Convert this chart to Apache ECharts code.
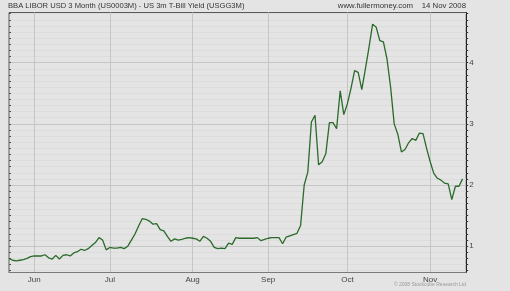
<!DOCTYPE html>
<html>
<head>
<meta charset="utf-8">
<script src="https://cdn.jsdelivr.net/npm/echarts@6/dist/echarts.min.js"></script>
<style>
html,body{margin:0;padding:0;background:#e4e4e4;}
#c{width:510px;height:291px;}
</style>
</head>
<body>
<div id="c"></div>
<script>
// ---- data ----
const startDate = '2008-05-22';   // first trading day shown
const tradingDays = 128;          // weekdays on the axis (last one is empty)
const monthNames = ['Jan','Feb','Mar','Apr','May','Jun','Jul','Aug','Sep','Oct','Nov','Dec'];
const spreadValues = [
  0.80,0.77,0.76,0.77,0.78,0.80,0.83,0.84,0.84,0.84,
  0.86,0.81,0.79,0.85,0.79,0.85,0.86,0.84,0.89,0.91,
  0.95,0.93,0.96,1.01,1.06,1.14,1.10,0.94,0.98,0.97,
  0.97,0.98,0.96,1.00,1.10,1.20,1.33,1.45,1.44,1.41,
  1.36,1.37,1.27,1.25,1.16,1.08,1.12,1.10,1.11,1.13,
  1.14,1.13,1.12,1.08,1.16,1.13,1.08,0.98,0.96,0.97,
  0.96,1.05,1.03,1.14,1.13,1.13,1.13,1.13,1.13,1.14,
  1.09,1.11,1.13,1.14,1.14,1.14,1.04,1.15,1.17,1.19,
  1.21,1.34,2.00,2.21,3.03,3.14,2.33,2.38,2.51,3.02,
  3.02,2.92,3.54,3.15,3.33,3.58,3.87,3.84,3.56,3.90,
  4.25,4.63,4.58,4.36,4.34,4.06,3.60,3.00,2.83,2.54,
  2.58,2.69,2.76,2.73,2.85,2.84,2.60,2.38,2.19,2.11,
  2.08,2.03,2.02,1.76,1.98,1.98,2.10
];
const yTickLabels = [1,2,3,4];
const yMin = 0.57, yMax = 4.82;

// ---- categories (weekdays) ----
const categories = [];
(function(){
  const d = new Date(startDate + 'T00:00:00Z');
  while (categories.length < tradingDays) {
    const wd = d.getUTCDay();
    if (wd !== 0 && wd !== 6) categories.push(d.toISOString().slice(0,10));
    d.setUTCDate(d.getUTCDate() + 1);
  }
})();
function isMonthStart(idx) {
  if (idx === 0) return false;
  return categories[idx].slice(5,7) !== categories[idx-1].slice(5,7);
}
const minorTicks = [];
for (let k = 6; k <= 48; k++) minorTicks.push(Math.round(k) / 10);

const chart = echarts.init(document.getElementById('c'), null, {renderer:'canvas'});
const FONT = "'Liberation Sans', Arial, sans-serif";
chart.setOption({
  animation: false,
  backgroundColor: '#e4e4e4',
  grid: {left: 9, top: 12.5, width: 457.2, height: 260, show: true, borderColor: '#5a5a5a', borderWidth: 1, backgroundColor: 'transparent'},
  xAxis: {
    type: 'category', data: categories, boundaryGap: false,
    axisLine: {lineStyle: {color: '#7a7a7a'}},
    axisTick: {show: false},
    axisLabel: {
      interval: (i) => isMonthStart(i),
      formatter: (v) => monthNames[parseInt(v.slice(5,7),10)-1],
      color: '#444', fontSize: 8, fontFamily: FONT, margin: 3
    },
    splitLine: {show: true, interval: (i) => isMonthStart(i), lineStyle: {color: '#c6c6c6', width: 1}}
  },
  yAxis: [
    {
      type: 'value', position: 'right', min: yMin, max: yMax,
      axisLine: {show: true, lineStyle: {color: '#222'}},
      axisTick: {show: true, inside: false, length: 2, customValues: minorTicks, lineStyle: {color: '#333'}},
      axisLabel: {show: true, customValues: yTickLabels, color: '#444', fontSize: 8, fontFamily: FONT, margin: 3},
      splitLine: {show: false}
    },
    {
      type: 'value', position: 'left', min: yMin, max: yMax,
      axisLine: {show: false},
      axisTick: {show: true, inside: true, length: 2, customValues: minorTicks, lineStyle: {color: '#555'}},
      axisLabel: {show: false},
      splitLine: {show: true, lineStyle: {color: '#dcdcdc', width: 1}}
    },
    {
      type: 'value', position: 'left', min: yMin, max: yMax,
      axisLine: {show: false},
      axisTick: {show: false, customValues: yTickLabels},
      axisLabel: {show: false},
      splitLine: {show: true, lineStyle: {color: '#c6c6c6', width: 1}}
    }
  ],
  series: [{
    type: 'line', data: spreadValues, yAxisIndex: 0, showSymbol: false, symbol: 'none',
    lineStyle: {color: '#2a6a2a', width: 1.3}, z: 5
  }],
  graphic: [
    {type: 'text', x: 8, y: 6, style: {text: 'BBA LIBOR USD 3 Month (US0003M) - US 3m T-Bill Yield (USGG3M)', fill: '#333', font: '7.6px ' + FONT, textAlign: 'left', textVerticalAlign: 'middle'}},
    {type: 'text', x: 413, y: 6, style: {text: 'www.fullermoney.com', fill: '#333', font: '7.8px ' + FONT, textAlign: 'right', textVerticalAlign: 'middle'}},
    {type: 'text', x: 466, y: 6, style: {text: '14 Nov 2008', fill: '#333', font: '7.8px ' + FONT, textAlign: 'right', textVerticalAlign: 'middle'}},
    {type: 'text', x: 466, y: 285, style: {text: '\u00A9 2008 Stockcube Research Ltd', fill: '#999', font: '5px ' + FONT, textAlign: 'right', textVerticalAlign: 'middle'}}
  ]
});
</script>
</body>
</html>
